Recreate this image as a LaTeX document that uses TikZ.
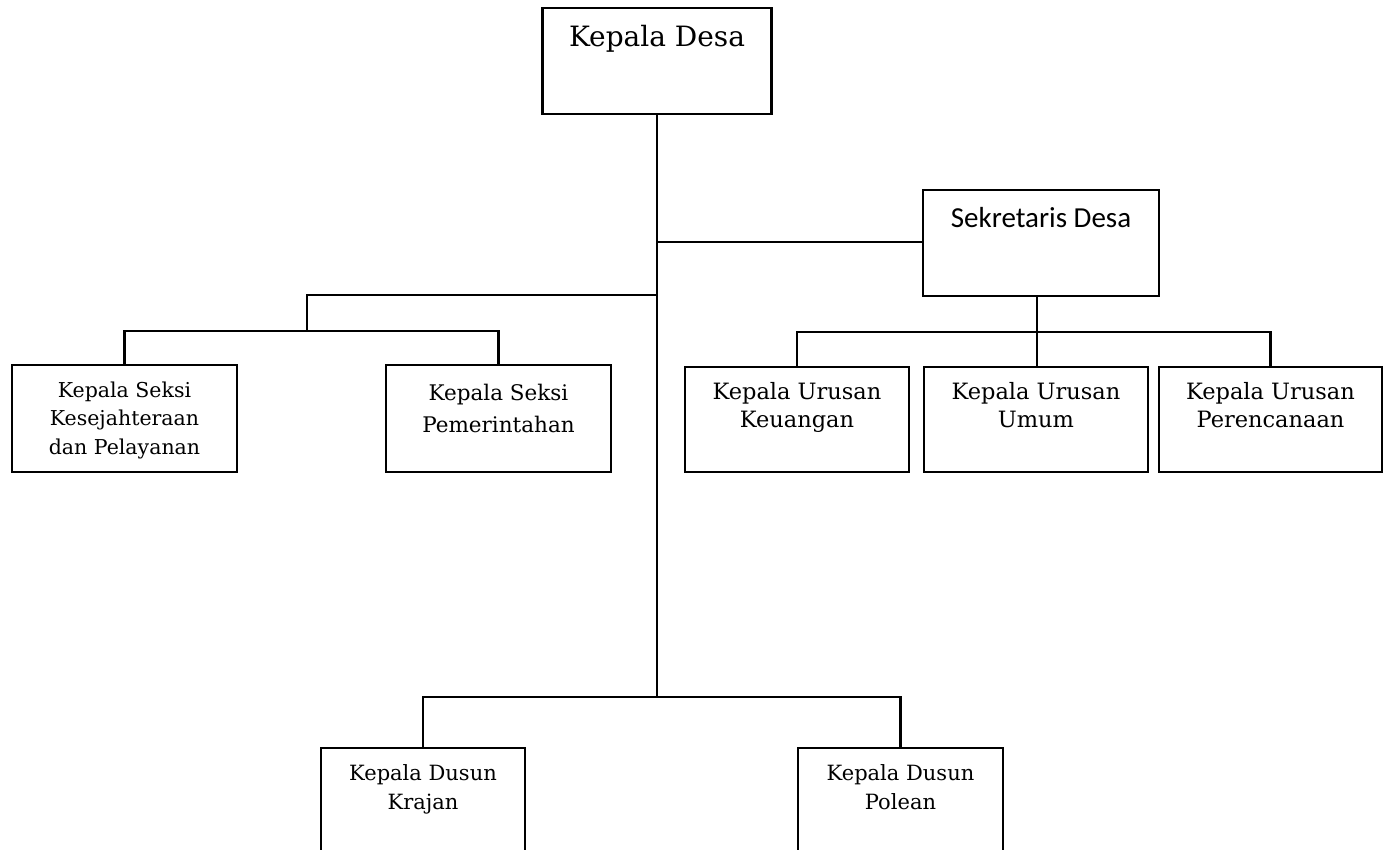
\documentclass[tikz,border=0pt]{standalone}
\usepackage{fontspec}
\newfontfamily\serfont{DejaVu Serif}
\newfontfamily\calfont{Carlito}
\begin{document}
\begin{tikzpicture}[x=1pt,y=1pt,
  box/.style={draw=black, line width=2.2pt, fill=white, inner sep=0pt, rectangle},
  link/.style={draw=black, line width=2.2pt},
  big/.style={font=\serfont\fontsize{28}{32}\selectfont, anchor=base, inner sep=0pt},
  sek/.style={font=\calfont\fontsize{29}{32}\selectfont, anchor=base, inner sep=0pt},
  seksi/.style={font=\serfont\fontsize{21.5}{32}\selectfont, anchor=base, inner sep=0pt, align=center},
  urusan/.style={font=\serfont\fontsize{22.5}{28}\selectfont, anchor=base, inner sep=0pt, align=center},
  dusun/.style={font=\serfont\fontsize{21}{29}\selectfont, anchor=base, inner sep=0pt, align=center},
  tiny/.style={font=\serfont\fontsize{20.5}{28.5}\selectfont, anchor=base, inner sep=0pt, align=center}
]
\useasboundingbox (0,0) rectangle (1389,-850);
\fill[white] (0,0) rectangle (1389,-850);
\clip (0,0) rectangle (1389,-850);

% boxes
\node[box, minimum width=229pt, minimum height=106pt] (kades) at (657,-61) {};
\node[box, minimum width=236pt, minimum height=106pt] (sekdes) at (1041,-243) {};
\node[box, minimum width=225pt, minimum height=107pt] (ks1) at (124.5,-418.5) {};
\node[box, minimum width=225pt, minimum height=107pt] (ks2) at (498.5,-418.5) {};
\node[box, minimum width=224pt, minimum height=105pt] (ku1) at (797,-419.5) {};
\node[box, minimum width=224pt, minimum height=105pt] (ku2) at (1036,-419.5) {};
\node[box, minimum width=223pt, minimum height=105pt] (ku3) at (1270.5,-419.5) {};
\node[box, minimum width=204pt, minimum height=124pt] (kd1) at (423,-810) {};
\node[box, minimum width=205pt, minimum height=124pt] (kd2) at (900.5,-810) {};

% junctions
\coordinate (jS) at (657,-242);
\coordinate (jL) at (657,-295);
\coordinate (lb) at (307,-331);
\coordinate (rb) at (1037,-332);
\coordinate (jB) at (657,-697);

% connectors
\draw[link] (kades.south) -- (jB);
\draw[link] (jS) -- (jS -| sekdes.west);
\draw[link] (jL) -| (lb);
\draw[link] (ks1.north) |- (lb) -| (ks2.north);
\draw[link] (rb |- sekdes.south) -- (rb |- ku2.north);
\draw[link] (ku1.north) |- (rb) -| (ku3.north);
\draw[link] (kd1.north) |- (jB) -| (kd2.north);

% texts (base anchor = baseline of the last line)
\node[big] (kadesT) at (657,-47) {Kepala Desa};
\node[sek] (sekdesT) at (1041,-228) {Sekretaris Desa};
\node[tiny] (ks1T) at (124.5,-454) {Kepala Seksi\\Kesejahteraan\\dan Pelayanan};
\node[seksi] (ks2T) at (498.5,-432) {Kepala Seksi\\Pemerintahan};
\node[urusan] (ku1T) at (797,-427) {Kepala Urusan\\Keuangan};
\node[urusan] (ku2T) at (1036,-427) {Kepala Urusan\\Umum};
\node[urusan] (ku3T) at (1270.5,-427) {Kepala Urusan\\Perencanaan};
\node[dusun] (kd1T) at (423,-809) {Kepala Dusun\\Krajan};
\node[dusun] (kd2T) at (900.5,-809) {Kepala Dusun\\Polean};
\end{tikzpicture}
\end{document}
